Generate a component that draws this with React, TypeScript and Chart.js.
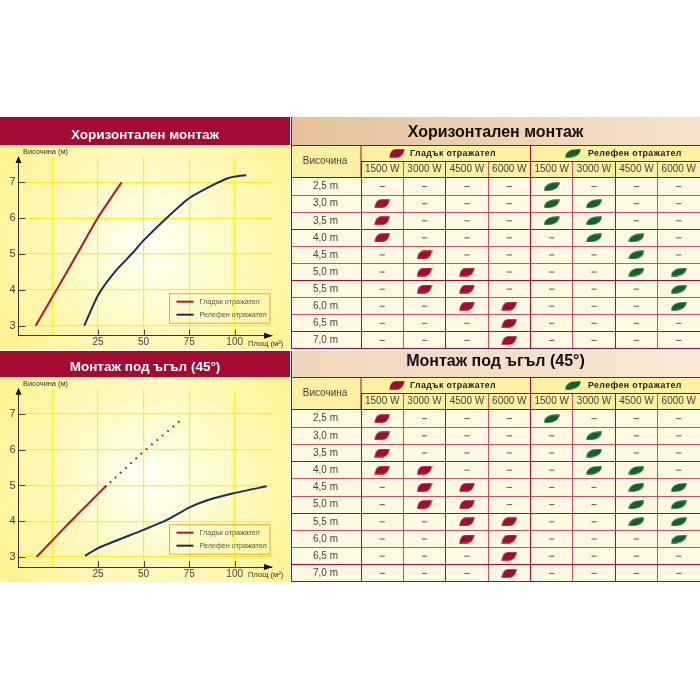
import React, { useEffect, useRef } from "react";
import { Chart, registerables } from "chart.js";

Chart.register(...registerables);

const FONT = "'Liberation Sans', Arial, sans-serif";
const CRIMSON = "#A50A32";
const SOFT_LINE = "#C9516F";
const RED = "#B5152F";
const BLUE = "#1C2C5E";
const GREEN = "#14612F";

const titleHorizontal = "Хоризонтален монтаж";
const titleTilted = "Монтаж под ъгъл (45°)";
const smoothLabel = "Гладък отражател";
const embossedLabel = "Релефен отражател";
const yAxisLabel = "Височина (м)";
const xAxisLabel = "Площ (м²)";
const heightHeader = "Височина";

const xTicks = [0, 25, 50, 75, 100];
const yTicks = [3, 4, 5, 6, 7];

const hSmooth = [
  { x: -9.3, y: 3 }, { x: 2.2, y: 4 }, { x: 13.5, y: 5 }, { x: 24.7, y: 6 }, { x: 37.9, y: 7 },
];
const hEmbossed = [
  { x: 17.4, y: 3 }, { x: 25, y: 3.85 }, { x: 34.2, y: 4.5 }, { x: 43.4, y: 5 }, { x: 50, y: 5.38 }, { x: 62.5, y: 6 },
  { x: 74.8, y: 6.55 }, { x: 84.5, y: 6.83 }, { x: 95.4, y: 7.1 }, { x: 100, y: 7.16 }, { x: 106.4, y: 7.2 },
];
const tSmooth = [
  { x: -8.8, y: 3 }, { x: 10, y: 4 }, { x: 29.6, y: 5 },
];
const tSmoothDotted = [
  { x: 31.4, y: 5.08 }, { x: 50, y: 5.95 }, { x: 69.8, y: 6.8 },
];
const tEmbossed = [
  { x: 17.8, y: 3.03 }, { x: 25, y: 3.25 }, { x: 50, y: 3.76 }, { x: 62.5, y: 4.03 }, { x: 75, y: 4.38 },
  { x: 84.6, y: 4.58 }, { x: 100, y: 4.79 }, { x: 117.5, y: 4.98 },
];

const watts = ["1500 W", "3000 W", "4500 W", "6000 W", "1500 W", "3000 W", "4500 W", "6000 W"];
const heights = ["2,5 m", "3,0 m", "3,5 m", "4,0 m", "4,5 m", "5,0 m", "5,5 m", "6,0 m", "6,5 m", "7,0 m"];

const hTable = [
  [0, 0, 0, 0, 2, 0, 0, 0],
  [1, 0, 0, 0, 2, 2, 0, 0],
  [1, 0, 0, 0, 2, 2, 0, 0],
  [1, 0, 0, 0, 0, 2, 2, 0],
  [0, 1, 0, 0, 0, 0, 2, 0],
  [0, 1, 1, 0, 0, 0, 2, 2],
  [0, 1, 1, 0, 0, 0, 0, 2],
  [0, 0, 1, 1, 0, 0, 0, 2],
  [0, 0, 0, 1, 0, 0, 0, 0],
  [0, 0, 0, 1, 0, 0, 0, 0],
];
const tTable = [
  [1, 0, 0, 0, 2, 0, 0, 0],
  [1, 0, 0, 0, 0, 2, 0, 0],
  [1, 0, 0, 0, 0, 2, 0, 0],
  [1, 1, 0, 0, 0, 2, 2, 0],
  [0, 1, 1, 0, 0, 0, 2, 2],
  [0, 1, 1, 0, 0, 0, 2, 2],
  [0, 0, 1, 1, 0, 0, 2, 2],
  [0, 0, 1, 1, 0, 0, 0, 2],
  [0, 0, 0, 1, 0, 0, 0, 0],
  [0, 0, 0, 1, 0, 0, 0, 0],
];

function makeLeaf(color: string, rounded: boolean) {
  const c = document.createElement("canvas");
  c.width = 16;
  c.height = 9;
  const g = c.getContext("2d")!;
  g.fillStyle = color;
  g.beginPath();
  if (rounded) {
    g.moveTo(0.3, 8.8);
    g.bezierCurveTo(0.5, 3, 5, 0, 15.7, 0.3);
    g.bezierCurveTo(15.5, 6, 11, 9.2, 0.3, 8.8);
  } else {
    g.moveTo(0.3, 8.7);
    g.bezierCurveTo(1.2, 3, 3.5, 0.3, 7, 0.3);
    g.lineTo(15.7, 0.3);
    g.bezierCurveTo(14.5, 5, 12.5, 8.7, 8, 8.7);
    g.closePath();
  }
  g.fill();
  return c;
}

function linePanelPlugin(bandH: number, legendTop: number, ylabelY: number, xlabelY: number) {
  return {
    id: "linePanel",
    beforeDraw(chart: any) {
      const { ctx, width, height } = chart;
      ctx.save();
      const cy = bandH + (height - bandH) / 2;
      const r = ctx.createRadialGradient(width / 2 + 5, cy, 6, width / 2 + 5, cy, 170);
      r.addColorStop(0, "#FFFFF4");
      r.addColorStop(0.45, "#FFFAC4");
      r.addColorStop(1, "#FEF391");
      ctx.fillStyle = r;
      ctx.fillRect(0, bandH, width, height - bandH);
      ctx.fillStyle = CRIMSON;
      ctx.fillRect(0, 0, width, bandH);
      ctx.restore();
    },
    afterDraw(chart: any) {
      const { ctx, chartArea: a, scales } = chart;
      ctx.save();
      ctx.strokeStyle = "#444";
      ctx.lineWidth = 1;
      ctx.beginPath();
      scales.y.ticks.forEach((t: any) => {
        const py = Math.round(scales.y.getPixelForValue(t.value)) + 0.5;
        ctx.moveTo(a.left, py);
        ctx.lineTo(a.left + 7, py);
      });
      scales.x.ticks.forEach((t: any) => {
        if (t.value === 0) return;
        const px = Math.round(scales.x.getPixelForValue(t.value)) + 0.5;
        ctx.moveTo(px, a.bottom);
        ctx.lineTo(px, a.bottom - 6);
      });
      ctx.stroke();
      ctx.fillStyle = "#111";
      ctx.beginPath();
      ctx.moveTo(a.left, a.top - 2);
      ctx.lineTo(a.left + 3, a.top + 5);
      ctx.lineTo(a.left - 3, a.top + 5);
      ctx.fill();
      ctx.beginPath();
      ctx.moveTo(a.right + 1, a.bottom);
      ctx.lineTo(a.right - 8, a.bottom - 3);
      ctx.lineTo(a.right - 8, a.bottom + 3);
      ctx.fill();
      ctx.font = `7.4px ${FONT}`;
      ctx.fillStyle = "#333";
      ctx.textBaseline = "middle";
      ctx.textAlign = "left";
      ctx.fillText(yAxisLabel, 23, ylabelY);
      ctx.font = `7.6px ${FONT}`;
      ctx.fillText(xAxisLabel, 248, xlabelY);
      const x = 169.5, w = 100.5, h = 29.5;
      ctx.strokeStyle = "#E9A94E";
      ctx.lineWidth = 1;
      ctx.strokeRect(x, legendTop, w, h);
      chart.data.datasets
        .filter((d: any) => d.label)
        .forEach((d: any, i: number) => {
          const ly = legendTop + 8 + i * 13;
          ctx.strokeStyle = d.borderColor;
          ctx.lineWidth = 2;
          ctx.beginPath();
          ctx.moveTo(x + 7, ly);
          ctx.lineTo(x + 24, ly);
          ctx.stroke();
          ctx.fillStyle = "#555";
          ctx.font = `7.2px ${FONT}`;
          ctx.fillText(d.label, x + 30, ly);
        });
      ctx.restore();
    },
  };
}

function lineConfig(title: string, datasets: any[], bandH: number, bottomH: number, topGap: number, legendTop: number, ylabelY: number, xlabelY: number, shift: number) {
  const fs = 13.5;
  return {
    type: "line",
    data: { datasets },
    plugins: [linePanelPlugin(bandH, legendTop, ylabelY, xlabelY)],
    options: {
      responsive: false,
      animation: false,
      layout: { padding: 0, autoPadding: false },
      elements: { point: { radius: 0 } },
      plugins: {
        legend: { display: false },
        tooltip: { enabled: false },
        title: {
          display: true,
          text: title,
          color: "#fff",
          font: { family: FONT, size: fs, weight: "bold", lineHeight: 1 },
          padding: { top: (bandH - fs) / 2 + shift, bottom: (bandH - fs) / 2 - shift + topGap },
        },
      },
      scales: {
        x: {
          type: "linear",
          min: -18.7,
          max: 120.5,
          afterBuildTicks: (axis: any) => { axis.ticks = xTicks.map((value) => ({ value })); },
          afterFit: (axis: any) => { axis.height = bottomH; axis.paddingLeft = 0; axis.paddingRight = 0; },
          border: { color: "#333", width: 1 },
          grid: { color: "#FBEF2C", lineWidth: 1.2, drawTicks: false },
          ticks: {
            autoSkip: false, maxRotation: 0, padding: 1,
            color: "#444",
            font: { family: FONT, size: 10 },
            callback: (v: number) => (v === 0 ? "" : String(v)),
          },
        },
        y: {
          type: "linear",
          min: 2.72,
          max: 7.68,
          afterBuildTicks: (axis: any) => { axis.ticks = yTicks.map((value) => ({ value })); },
          afterFit: (axis: any) => { axis.width = 18.5; axis.paddingTop = 0; axis.paddingBottom = 0; },
          border: { color: "#333", width: 1 },
          grid: { color: "#FBEF2C", lineWidth: 1.2, drawTicks: false },
          ticks: {
            autoSkip: false, padding: 3,
            color: "#444",
            font: { family: FONT, size: 11 },
          },
        },
        spacer: {
          type: "linear",
          position: "right",
          display: true,
          afterFit: (axis: any) => { axis.width = 18; axis.paddingTop = 0; axis.paddingBottom = 0; },
          border: { display: false },
          grid: { display: false, drawTicks: false },
          ticks: { display: false },
        },
      },
    },
  };
}

function tablePlugin(bandH: number, redLeaf: HTMLCanvasElement, greenLeaf: HTMLCanvasElement, bandColors: string[]) {
  return {
    id: "tablePanel",
    beforeDraw(chart: any) {
      const { ctx, width, height, chartArea: a } = chart;
      ctx.save();
      const g = ctx.createLinearGradient(0, 0, width, 0);
      g.addColorStop(0, bandColors[0]);
      g.addColorStop(1, bandColors[1]);
      ctx.fillStyle = g;
      ctx.fillRect(0, 0, width, bandH);
      ctx.fillStyle = "#FEFAE2";
      ctx.fillRect(0, a.top, width, height - a.top);
      ctx.fillStyle = "#FCF0A2";
      ctx.fillRect(0, bandH, width, a.top - bandH);
      ctx.restore();
    },
    afterDraw(chart: any) {
      const { ctx, width, height, chartArea: a } = chart;
      const mid = a.top - 16.5;
      const half = (a.left + a.right) / 2;
      ctx.save();
      ctx.strokeStyle = CRIMSON;
      ctx.lineWidth = 1;
      ctx.beginPath();
      ctx.moveTo(0, bandH + 0.5); ctx.lineTo(width, bandH + 0.5);
      ctx.moveTo(a.left, mid); ctx.lineTo(a.right, mid);
      ctx.moveTo(a.left, bandH); ctx.lineTo(a.left, a.top);
      ctx.moveTo(half, bandH); ctx.lineTo(half, a.top);
      ctx.moveTo(0.5, 0); ctx.lineTo(0.5, height);
      ctx.moveTo(0, height - 0.5); ctx.lineTo(width, height - 0.5);
      ctx.stroke();
      ctx.textBaseline = "middle";
      ctx.textAlign = "center";
      ctx.fillStyle = "#444";
      ctx.font = `10px ${FONT}`;
      ctx.fillText(heightHeader, 34, (bandH + a.top) / 2);
      ctx.fillStyle = "#222";
      ctx.font = `bold 8.8px ${FONT}`;
      (ctx as any).letterSpacing = "0.4px";
      ctx.textAlign = "left";
      const gy = (bandH + mid) / 2;
      ctx.fillText(smoothLabel, 119, gy);
      ctx.drawImage(redLeaf, 98, gy - 4.5);
      ctx.fillText(embossedLabel, 297, gy);
      ctx.drawImage(greenLeaf, 274, gy - 4.5);
      ctx.restore();
    },
  };
}

function cellPoints(table: number[][], kind: number) {
  const out: { x: number; y: number }[] = [];
  table.forEach((row, y) => row.forEach((v, x) => { if (v === kind) out.push({ x, y }); }));
  return out;
}

function tableConfig(title: string, table: number[][], bandH: number, redLeaf: HTMLCanvasElement, greenLeaf: HTMLCanvasElement, bandColors: string[], shift: number) {
  const fs = 16;
  return {
    type: "scatter",
    plugins: [tablePlugin(bandH, redLeaf, greenLeaf, bandColors)],
    data: {
      datasets: [
        { label: smoothLabel, data: cellPoints(table, 1), parsing: false, pointStyle: redLeaf, pointRadius: 8 },
        { label: embossedLabel, data: cellPoints(table, 2), parsing: false, pointStyle: greenLeaf, pointRadius: 8 },
        { label: "–", data: cellPoints(table, 0), parsing: false, pointStyle: "line", pointRadius: 2.6, pointBorderColor: "#666", pointBorderWidth: 1.1 },
      ],
    },
    options: {
      responsive: false,
      animation: false,
      layout: { padding: 0, autoPadding: false },
      plugins: {
        legend: { display: false },
        tooltip: { enabled: false },
        title: {
          display: true,
          text: title,
          color: "#111",
          font: { family: FONT, size: fs, weight: "bold", lineHeight: 1 },
          padding: { top: (bandH - fs) / 2 + shift, bottom: (bandH - fs) / 2 - shift },
        },
      },
      scales: {
        x: {
          type: "category",
          labels: watts,
          position: "top",
          offset: true,
          afterFit: (axis: any) => { axis.height = 33; axis.paddingLeft = 0; axis.paddingRight = 0; },
          border: { display: false },
          grid: {
            offset: true,
            color: (c: any) => (c.index % 2 === 0 ? CRIMSON : SOFT_LINE),
            tickColor: (c: any) => (c.index % 2 === 0 ? CRIMSON : SOFT_LINE),
            lineWidth: 1, drawTicks: true, tickLength: 16,
          },
          ticks: { autoSkip: false, maxRotation: 0, minRotation: 0, padding: -13, color: "#444", font: { family: FONT, size: 10 } },
        },
        y: {
          type: "category",
          labels: heights,
          position: "left",
          offset: true,
          afterFit: (axis: any) => { axis.width = 70; axis.paddingTop = 0; axis.paddingBottom = 0; },
          border: { display: false },
          grid: {
            offset: true,
            color: (c: any) => (c.index % 3 === 0 ? CRIMSON : SOFT_LINE),
            tickColor: (c: any) => (c.index % 3 === 0 ? CRIMSON : SOFT_LINE),
            lineWidth: 1, drawTicks: true, tickLength: 70,
          },
          ticks: { autoSkip: false, padding: -47, color: "#444", font: { family: FONT, size: 10 } },
        },
      },
    },
  };
}

const fixed = (left: number, top: number): React.CSSProperties => ({ position: "fixed", left, top, display: "block" });

export default function App() {
  const a = useRef<HTMLCanvasElement>(null);
  const b = useRef<HTMLCanvasElement>(null);
  const c = useRef<HTMLCanvasElement>(null);
  const d = useRef<HTMLCanvasElement>(null);

  useEffect(() => {
    const redLeaf = makeLeaf(CRIMSON, false);
    const greenLeaf = makeLeaf(GREEN, true);
    const line = (label: string | undefined, data: any[], color: string, extra: any = {}) => ({
      label, data, borderColor: color, borderWidth: 2, tension: 0.2, fill: false, ...extra,
    });
    const charts = [
      new Chart(a.current!, lineConfig(titleHorizontal, [
        line(smoothLabel, hSmooth, RED),
        line(embossedLabel, hEmbossed, BLUE),
      ], 28, 13.3, 13, 176.7, 34.7, 227, 4) as any),
      new Chart(b.current!, lineConfig(titleTilted, [
        line(smoothLabel, tSmooth, RED),
        line(embossedLabel, tEmbossed, BLUE),
        line(undefined, tSmoothDotted, RED, { borderDash: [1.8, 5.2], tension: 0 }),
      ], 26, 15, 12.7, 173.7, 33, 224, 3) as any),
      new Chart(c.current!, tableConfig(titleHorizontal, hTable, 28, redLeaf, greenLeaf, ["#E6C09A", "#F6E2CB"], 2) as any),
      new Chart(d.current!, tableConfig(titleTilted, tTable, 26, redLeaf, greenLeaf, ["#F0D6BA", "#F8E8D5"], -2) as any),
    ];
    return () => charts.forEach((ch) => ch.destroy());
  }, []);

  return (
    <div>
      <canvas ref={a} width={290} height={232} style={fixed(0, 117)} />
      <canvas ref={b} width={290} height={231} style={fixed(0, 351)} />
      <canvas ref={c} width={409} height={232} style={fixed(291, 117)} />
      <canvas ref={d} width={409} height={231} style={fixed(291, 351)} />
    </div>
  );
}
